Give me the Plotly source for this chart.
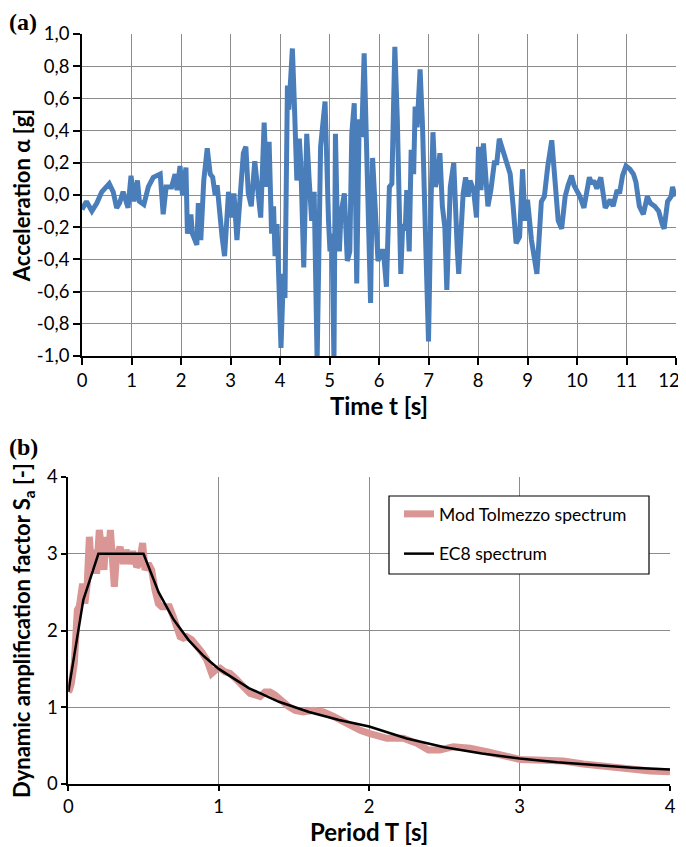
import plotly.graph_objects as go

# ---- (a) acceleration time history ----
time_s = [0.0, 0.09, 0.20, 0.30, 0.40, 0.55, 0.63, 0.70, 0.76, 0.83, 0.93, 0.99, 1.05, 1.12, 1.16,
          1.25, 1.34, 1.44, 1.58, 1.64, 1.70, 1.81, 1.88, 1.92, 1.98, 2.03, 2.10, 2.13, 2.20, 2.23,
          2.32, 2.35, 2.40, 2.46, 2.53, 2.59, 2.64, 2.69, 2.73, 2.78, 2.83, 2.88, 2.96, 3.03, 3.07,
          3.13, 3.19, 3.26, 3.31, 3.36, 3.42, 3.49, 3.61, 3.68, 3.73, 3.78, 3.83, 3.87, 3.90, 3.94,
          4.02, 4.07, 4.10, 4.15, 4.18, 4.20, 4.25, 4.29, 4.34, 4.39, 4.42, 4.48, 4.54, 4.59, 4.64,
          4.69, 4.75, 4.82, 4.91, 4.98, 5.01, 5.05, 5.09, 5.12, 5.15, 5.20, 5.23, 5.30, 5.36, 5.41,
          5.45, 5.50, 5.55, 5.60, 5.65, 5.70, 5.74, 5.83, 5.87, 5.98, 6.04, 6.09, 6.15, 6.21, 6.26,
          6.32, 6.37, 6.44, 6.48, 6.53, 6.56, 6.61, 6.65, 6.70, 6.73, 6.77, 6.83, 6.88, 6.94, 7.00,
          7.05, 7.09, 7.14, 7.19, 7.23, 7.28, 7.33, 7.37, 7.44, 7.51, 7.58, 7.61, 7.70, 7.75, 7.80,
          7.84, 7.91, 7.97, 8.01, 8.06, 8.11, 8.17, 8.20, 8.26, 8.33, 8.38, 8.43, 8.50, 8.58, 8.65,
          8.71, 8.77, 8.84, 8.90, 8.95, 9.00, 9.08, 9.19, 9.28, 9.34, 9.41, 9.49, 9.55, 9.62, 9.69,
          9.76, 9.82, 9.89, 9.94, 10.00, 10.06, 10.14, 10.20, 10.25, 10.30, 10.34, 10.40, 10.48,
          10.57, 10.67, 10.73, 10.81, 10.86, 10.92, 10.99, 11.07, 11.14, 11.19, 11.26, 11.34,
          11.42, 11.48, 11.57, 11.65, 11.72, 11.76, 11.83, 11.90, 11.93, 11.98]
accel_g = [-0.09, -0.04, -0.10, -0.05, 0.02, 0.07, 0.02, -0.08, -0.05, 0.02, -0.08, 0.12, -0.04, 0.09, -0.04,
           -0.06, 0.05, 0.11, 0.13, -0.12, 0.05, 0.05, 0.13, 0.03, 0.18, 0.00, 0.17, -0.24, -0.12, -0.24,
           -0.31, -0.05, -0.28, 0.09, 0.29, 0.13, 0.11, 0.00, 0.06, -0.14, -0.26, -0.38, 0.02, -0.14, 0.01,
           -0.28, 0.01, 0.26, 0.30, 0.01, -0.07, 0.21, -0.14, 0.45, 0.05, 0.33, -0.24, -0.07, -0.38, -0.18,
           -0.95, -0.49, -0.64, 0.68, 0.53, 0.67, 0.91, 0.57, 0.09, 0.35, 0.20, -0.45, 0.38, 0.09, -0.16,
           0.02, -1.03, 0.30, 0.58, -0.16, -0.35, -0.24, -1.03, 0.38, -0.07, -0.35, -0.12, 0.01, -0.41, -0.35,
           0.38, 0.57, -0.55, 0.47, 0.36, 0.88, 0.45, -0.67, 0.23, -0.41, -0.35, -0.35, -0.57, 0.05, 0.07,
           0.92, 0.47, -0.49, -0.18, -0.22, 0.03, -0.35, 0.28, 0.13, 0.55, 0.42, 0.78, 0.42, -0.26, -0.91,
           -0.05, 0.39, 0.05, 0.13, 0.26, -0.07, -0.20, -0.59, 0.05, 0.20, -0.33, -0.49, 0.01, 0.11, -0.01,
           0.09, 0.03, -0.14, 0.30, 0.03, 0.32, 0.09, -0.07, 0.03, 0.20, 0.20, 0.35, 0.28, 0.20, 0.13,
           -0.07, -0.30, -0.26, 0.16, -0.16, -0.03, -0.28, -0.49, -0.04, -0.01, 0.18, 0.34, 0.11, -0.16, -0.21,
           -0.01, 0.06, 0.12, 0.06, 0.03, -0.01, -0.08, 0.03, 0.11, 0.07, 0.09, 0.04, 0.11,
           -0.08, -0.03, -0.07, 0.03, 0.01, 0.12, 0.18, 0.16, 0.13, 0.08, -0.07, -0.12,
           -0.01, -0.05, -0.07, -0.10, -0.18, -0.21, -0.04, -0.01, 0.05, -0.01]

acc_tickvals = [-1.0, -0.8, -0.6, -0.4, -0.2, 0.0, 0.2, 0.4, 0.6, 0.8, 1.0]
acc_ticktext = ["-1,0", "-0,8", "-0,6", "-0,4", "-0,2", "0,0", "0,2", "0,4", "0,6", "0,8", "1,0"]
time_ticks = list(range(0, 13))
# last label padded with no-break spaces so it stays inside the page edge
time_ticktext = [str(v) for v in time_ticks[:-1]] + ["12\u00a0\u00a0\u00a0"]

# ---- (b) response spectra ----
tolmezzo_T = [0.0, 0.007, 0.02, 0.04, 0.05, 0.06, 0.073, 0.084, 0.095, 0.11, 0.126, 0.14, 0.155, 0.171,
              0.188, 0.206, 0.222, 0.237, 0.25, 0.266, 0.28, 0.295, 0.306, 0.32, 0.344, 0.366, 0.384,
              0.406, 0.428, 0.455, 0.472, 0.494, 0.51, 0.532, 0.554, 0.576, 0.599, 0.621, 0.643, 0.672,
              0.698, 0.725, 0.743, 0.765, 0.787, 0.82, 0.854, 0.887, 0.92, 0.953, 0.982, 1.009, 1.042,
              1.075, 1.109, 1.142, 1.175, 1.208, 1.242, 1.275, 1.308, 1.341, 1.375, 1.419, 1.463, 1.508,
              1.563, 1.63, 1.696, 1.763, 1.829, 1.874, 1.94, 2.0, 2.117, 2.227, 2.317, 2.394, 2.47, 2.56,
              2.671, 2.782, 2.892, 3.003, 3.158, 3.291, 3.424, 3.58, 3.735, 3.868, 4.0]
tolmezzo_Sa = [1.2, 1.22, 1.31, 1.57, 1.92, 2.27, 2.31, 2.53, 2.61, 2.35, 2.61, 3.22, 2.79, 3.05,
               2.74, 3.31, 3.01, 2.79, 3.22, 2.96, 3.31, 2.96, 2.57, 2.96, 3.09, 2.87, 3.05,
               2.87, 3.03, 2.83, 2.87, 3.14, 2.79, 2.87, 2.79, 2.53, 2.35, 2.31, 2.31, 2.31,
               2.18, 2.05, 1.92, 1.90, 1.92, 1.88, 1.81, 1.72, 1.62, 1.44, 1.49, 1.51, 1.46,
               1.44, 1.38, 1.31, 1.22, 1.18, 1.16, 1.14, 1.20, 1.20, 1.16, 1.07, 1.01, 0.96,
               0.94, 0.96, 0.94, 0.88, 0.81, 0.76, 0.70, 0.66, 0.595, 0.595, 0.53, 0.443, 0.443, 0.486,
               0.465, 0.42, 0.365, 0.32, 0.31, 0.30, 0.26, 0.226, 0.19, 0.17, 0.16]

ec8_T = [0.0, 0.1, 0.2, 0.5, 0.6, 0.7, 0.8, 0.9, 1.0, 1.2, 1.4, 1.6, 1.8, 2.0,
         2.25, 2.5, 2.75, 3.0, 3.25, 3.5, 3.75, 4.0]
ec8_Sa = [1.2, 2.4, 3.0, 3.0, 2.5, 2.143, 1.875, 1.667, 1.5, 1.25, 1.071, 0.9375, 0.833, 0.75,
          0.593, 0.48, 0.397, 0.333, 0.284, 0.245, 0.213, 0.1875]

period_ticks = [0, 1, 2, 3, 4]
sa_ticks = [0, 1, 2, 3, 4]

# page body has an 8 px margin: size the figure so it fills the window exactly
OFF = 8
W, H = 686 - OFF, 847 - OFF
FONT = "Lato"
GRID = "#8c8c8c"
TICK_SIZE = 18.5
XTITLE_SIZE = 24
YTITLE_SIZE = 22


def px_x(px):
    return (px - OFF) / W


def px_y(py):
    return 1 - (py - OFF) / H


fig = go.Figure()

fig.add_trace(go.Scatter(x=time_s, y=accel_g, mode="lines",
                         line=dict(color="#4a7ebb", width=5),
                         xaxis="x", yaxis="y", showlegend=False))

fig.add_trace(go.Scatter(x=tolmezzo_T, y=tolmezzo_Sa, mode="lines", name="Mod Tolmezzo spectrum",
                         line=dict(color="#d99694", width=7),
                         xaxis="x2", yaxis="y2", legendgroup="a"))
fig.add_trace(go.Scatter(x=ec8_T, y=ec8_Sa, mode="lines", name="EC8 spectrum",
                         line=dict(color="black", width=2.5),
                         xaxis="x2", yaxis="y2", legendgroup="b"))


def axis(**kw):
    base = dict(showgrid=True, gridcolor=GRID, gridwidth=1.3, showline=True,
                linecolor="black", linewidth=1.8, ticks="outside", ticklen=7,
                tickcolor="black", tickwidth=1.5, zeroline=False, automargin=False,
                ticklabeloverflow="allow",
                tickfont=dict(family=FONT, size=TICK_SIZE, color="black"))
    base.update(kw)
    return base


fig.update_layout(
    width=W, height=H,
    margin=dict(l=0, r=0, t=0, b=0, autoexpand=False),
    paper_bgcolor="white", plot_bgcolor="white",
    font=dict(family=FONT, color="black"),
    xaxis=axis(domain=[px_x(82), px_x(676)], anchor="y", range=[0, 12],
               tickvals=time_ticks, ticktext=time_ticktext,
               title=dict(text="<b>Time t [s]</b>", font=dict(family=FONT, size=XTITLE_SIZE), standoff=6)),
    yaxis=axis(domain=[px_y(356), px_y(34)], anchor="x", range=[-1, 1],
               tickvals=acc_tickvals, ticktext=acc_ticktext,
               title=dict(text="<b>Acceleration α [g]</b>", font=dict(family=FONT, size=YTITLE_SIZE), standoff=10)),
    xaxis2=axis(domain=[px_x(68.3), px_x(670)], anchor="y2", range=[0, 4], ticklen=5,
                tickvals=period_ticks, ticktext=[str(v) for v in period_ticks],
                title=dict(text="<b>Period T [s]</b>", font=dict(family=FONT, size=XTITLE_SIZE), standoff=6)),
    yaxis2=axis(domain=[px_y(784), px_y(477)], anchor="x2", range=[0, 4], ticklen=5,
                tickvals=sa_ticks, ticktext=[str(v) for v in sa_ticks],
                title=dict(text="<b>Dynamic amplification factor S<sub>a</sub> [-]</b>",
                           font=dict(family=FONT, size=YTITLE_SIZE), standoff=16)),
    legend=dict(x=px_x(399), y=px_y(496), xanchor="left", yanchor="top",
                bgcolor="rgba(0,0,0,0)", borderwidth=0,
                font=dict(family=FONT, size=17.5, color="black"),
                traceorder="grouped", tracegroupgap=14),
    shapes=[
        dict(type="rect", xref="paper", yref="paper", layer="above",
             x0=px_x(389), x1=px_x(649), y0=px_y(574), y1=px_y(496),
             fillcolor="white", line=dict(color="black", width=1.2)),
    ],
    annotations=[
        dict(text="<b>(a)</b>", x=px_x(8), y=px_y(8), xref="paper", yref="paper",
             xanchor="left", yanchor="top", showarrow=False, borderpad=0,
             font=dict(family="Liberation Serif", size=24, color="black")),
        dict(text="<b>(b)</b>", x=px_x(8), y=px_y(433), xref="paper", yref="paper",
             xanchor="left", yanchor="top", showarrow=False, borderpad=0,
             font=dict(family="Liberation Serif", size=24, color="black")),
    ],
)

fig.write_html("out.html")
